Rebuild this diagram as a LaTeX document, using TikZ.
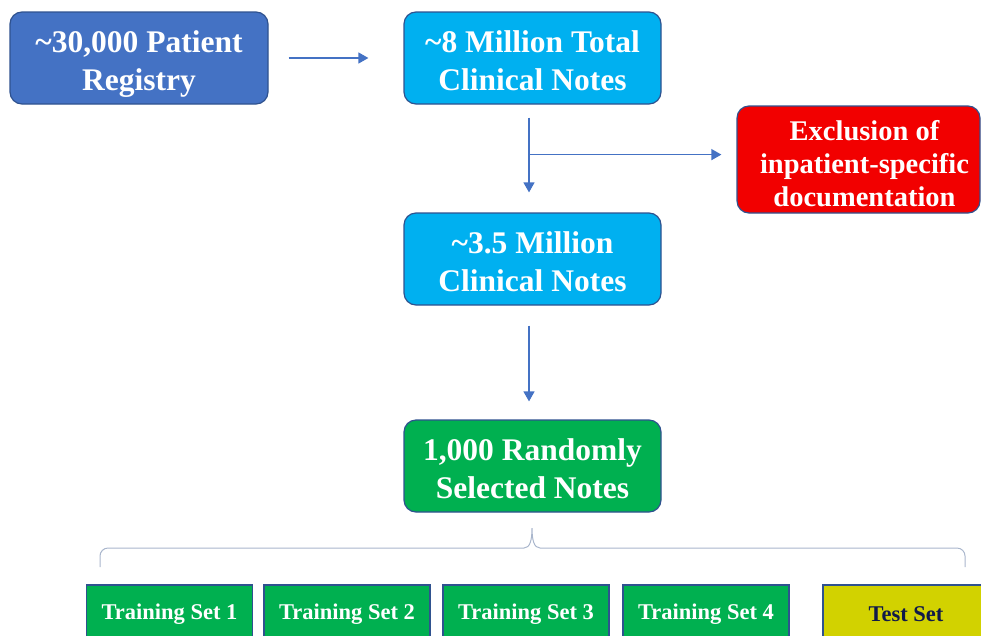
\documentclass[tikz,border=0pt]{standalone}
\usepackage{fontspec}
\setmainfont{Liberation Serif}
\usepackage{xcolor}
\usetikzlibrary{arrows.meta}

\definecolor{regblue}{HTML}{4472C4}
\definecolor{notecyan}{HTML}{00B0F0}
\definecolor{exclred}{HTML}{F20000}
\definecolor{selgreen}{HTML}{00B050}
\definecolor{testyellow}{HTML}{D2D200}
\definecolor{edgeblue}{HTML}{2F528F}
\definecolor{navytext}{HTML}{101A4A}
\definecolor{bracegray}{HTML}{A9B6CC}

\begin{document}
\begin{tikzpicture}[x=1pt,y=-1pt,
  box/.style={draw=edgeblue, line width=1.2pt, rounded corners=12pt, text=white,
    align=center, inner sep=0pt, minimum width=257pt, minimum height=92pt,
    text height=71pt, text depth=7pt,
    font=\bfseries\fontsize{31.5}{38}\selectfont},
  setbox/.style={draw=edgeblue, line width=1.2pt, text=white, inner sep=0pt,
    minimum width=166pt, minimum height=58pt, fill=selgreen,
    font=\bfseries\fontsize{22.5}{26}\selectfont},
  flow/.style={draw=regblue, line width=1.3pt, -{Triangle[length=10pt,width=11pt]}}]
\useasboundingbox (0,0) rectangle (981,635);
\clip (0,0) rectangle (981,635);

% top row
\node[box, fill=regblue, minimum width=258pt] (reg) at (139,58) {\textasciitilde30,000 Patient\\Registry};
\node[box, fill=notecyan] (total) at (532.5,58) {\textasciitilde8 Million Total\\Clinical Notes};

% exclusion step
\node[box, fill=exclred, minimum width=243pt, minimum height=107pt,
  text height=100pt, text depth=7pt,
  font=\bfseries\fontsize{28.5}{33}\selectfont] (excl) at (858.5,159.5)
  {\hspace*{12pt}Exclusion of\\\hspace*{12pt}inpatient-specific\\\hspace*{12pt}documentation};
\node[box, fill=notecyan] (kept) at (532.5,259) {\textasciitilde3.5 Million\\Clinical Notes};
\node[box, fill=selgreen] (sel) at (532.5,466) {1,000 Randomly\\Selected Notes};

% split sets
\node[setbox] (set1) at (169.5,614) {Training Set 1};
\node[setbox] (set2) at (347,614) {Training Set 2};
\node[setbox] (set3) at (526,614) {Training Set 3};
\node[setbox] (set4) at (706,614) {Training Set 4};
\node[setbox, fill=testyellow, text=navytext] (test) at (906,614) {Test Set};

% arrows
\draw[flow] ([xshift=20pt]reg.east) -- ([xshift=-35pt]total.west);
\coordinate (split) at ([shift={(-3.5,50)}]total.south);
\draw[flow] ([shift={(-3.5,13)}]total.south) -- ([shift={(-3.5,-20)}]kept.north);
\draw[flow, shorten >=15pt] (split) -- (split -| excl.west);
\draw[flow] ([shift={(-3.5,20)}]kept.south) -- ([shift={(-3.5,-18)}]sel.north);

% brace over the sets
\draw[bracegray, line width=1pt, rounded corners=8pt]
  (100,567) -- (100,548) -- (524,548);
\draw[bracegray, line width=1pt]
  (524,548) .. controls (530,548) and (532,540) .. (532,528)
  .. controls (532,540) and (534,548) .. (540,548);
\draw[bracegray, line width=1pt, rounded corners=8pt]
  (540,548) -- (965,548) -- (965,567);
\end{tikzpicture}
\end{document}
